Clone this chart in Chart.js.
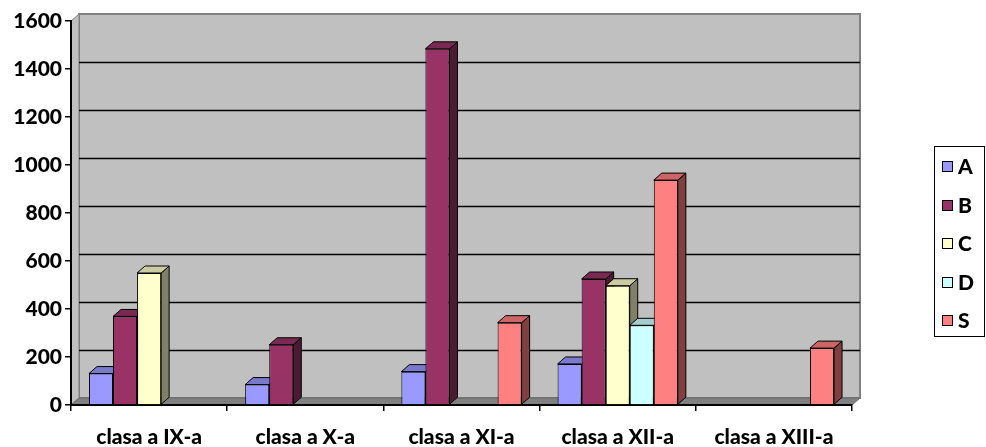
<!DOCTYPE html>
<html lang="ro">
<head>
    <meta charset="UTF-8">
    <title>Clase</title>
    <style>
        html, body { margin: 0; padding: 0; background: #fff; }
        #wrap { width: 986px; height: 447px; position: relative; }
    </style>
    <script src="https://cdn.jsdelivr.net/npm/chart.js@4"></script>
</head>
<body>
    <div id="wrap"><canvas id="chart" width="986" height="447"></canvas></div>
    <script>
        // data
        const categories = ['clasa a IX-a', 'clasa a X-a', 'clasa a XI-a', 'clasa a XII-a', 'clasa a XIII-a'];
        const seriesNames = ['A', 'B', 'C', 'D', 'S'];
        const valuesA = [131, 85, 139, 171, null];
        const valuesB = [369, 251, 1484, 525, null];
        const valuesC = [550, null, null, 497, null];
        const valuesD = [null, null, null, 332, null];
        const valuesS = [null, null, 343, 937, 237];
        const yTicks = [0, 200, 400, 600, 800, 1000, 1200, 1400, 1600];

        const colors = ['#9999FF', '#993366', '#FFFFCC', '#CCFFFF', '#FF8080'];
        const FONT = 'Lato, "Liberation Sans", sans-serif';
        const DX = 8, DY = 7; // depth of the 3d look

        function shade(hex, f) {
            const n = parseInt(hex.slice(1), 16);
            const r = Math.round(((n >> 16) & 255) * f);
            const g = Math.round(((n >> 8) & 255) * f);
            const b = Math.round((n & 255) * f);
            return 'rgb(' + r + ',' + g + ',' + b + ')';
        }

        function poly(ctx, pts, fill, stroke, lw) {
            ctx.beginPath();
            ctx.moveTo(pts[0][0], pts[0][1]);
            for (let i = 1; i < pts.length; i++) ctx.lineTo(pts[i][0], pts[i][1]);
            ctx.closePath();
            if (fill) { ctx.fillStyle = fill; ctx.fill(); }
            if (stroke) { ctx.strokeStyle = stroke; ctx.lineWidth = lw || 1; ctx.stroke(); }
        }

        // walls, floor and back gridlines
        const wallsPlugin = {
            id: 'walls',
            beforeDraw(chart) {
                const ctx = chart.ctx;
                const a = chart.chartArea;
                const y = chart.scales.y;
                ctx.save();
                poly(ctx, [[a.left + DX, a.top - DY], [a.right + DX, a.top - DY], [a.right + DX, a.bottom - DY], [a.left + DX, a.bottom - DY]], '#C0C0C0', '#808080', 2);
                poly(ctx, [[a.left, a.top], [a.left + DX, a.top - DY], [a.left + DX, a.bottom - DY], [a.left, a.bottom]], '#C0C0C0', '#808080', 1);
                poly(ctx, [[a.left, a.bottom], [a.left + DX, a.bottom - DY], [a.right + DX, a.bottom - DY], [a.right, a.bottom]], '#808080', '#666', 1);
                ctx.strokeStyle = '#000';
                ctx.lineWidth = 1.5;
                yTicks.forEach(v => {
                    if (v === 0 || v === 1600) return;
                    const py = Math.round(y.getPixelForValue(v) - DY) + 0.5;
                    ctx.beginPath();
                    ctx.moveTo(a.left + DX, py);
                    ctx.lineTo(a.right + DX, py);
                    ctx.stroke();
                });
                ctx.restore();
            },
            // side and top faces of the columns, drawn behind the front faces
            beforeDatasetsDraw(chart) {
                const ctx = chart.ctx;
                ctx.save();
                chart.data.datasets.forEach((ds, di) => {
                    const meta = chart.getDatasetMeta(di);
                    meta.data.forEach((bar, i) => {
                        if (ds.data[i] === null) return;
                        const p = bar.getProps(['x', 'y', 'base', 'width'], true);
                        const l = p.x - p.width / 2, r = p.x + p.width / 2;
                        poly(ctx, [[r, p.y], [r + DX, p.y - DY], [r + DX, p.base - DY], [r, p.base]], shade(colors[di], 0.5), '#000', 1);
                        poly(ctx, [[l, p.y], [l + DX, p.y - DY], [r + DX, p.y - DY], [r, p.y]], shade(colors[di], 0.8), '#000', 1);
                    });
                });
                ctx.restore();
            },
            afterDraw(chart) {
                // legend box
                const ctx = chart.ctx;
                ctx.save();
                ctx.strokeStyle = '#000';
                ctx.lineWidth = 1;
                ctx.strokeRect(934.5, 146.5, 50, 190);
                ctx.font = '900 21px ' + FONT;
                ctx.textBaseline = 'middle';
                ctx.textAlign = 'left';
                chart.data.datasets.forEach((ds, i) => {
                    const cy = 166.5 + i * 38.5;
                    ctx.fillStyle = colors[i];
                    ctx.fillRect(942, Math.round(cy - 5.5), 11, 11);
                    ctx.strokeStyle = '#000';
                    ctx.strokeRect(942.5, Math.round(cy - 5.5) + 0.5, 10, 10);
                    ctx.fillStyle = '#000';
                    ctx.fillText(ds.label, 958, cy + 1);
                });
                ctx.restore();
            }
        };

        const seriesValues = [valuesA, valuesB, valuesC, valuesD, valuesS];
        const datasets = seriesNames.map((name, i) => ({
            label: name,
            data: seriesValues[i],
            backgroundColor: colors[i],
            borderColor: '#000',
            borderWidth: 1,
            barPercentage: 1,
            categoryPercentage: 0.77
        }));

        new Chart(document.getElementById('chart').getContext('2d'), {
            type: 'bar',
            data: { labels: categories, datasets: datasets },
            plugins: [wallsPlugin],
            options: {
                responsive: false,
                animation: false,
                layout: { padding: { top: 21, right: 134, left: 0, bottom: 0 } },
                plugins: {
                    legend: { display: false },
                    tooltip: { enabled: false }
                },
                scales: {
                    x: {
                        offset: true,
                        grid: { offset: true, drawOnChartArea: false, color: '#000', tickLength: 6, lineWidth: 1.5 },
                        border: { color: '#000', width: 2 },
                        ticks: { color: '#000', padding: 14, font: { family: FONT, size: 21, weight: '900' } },
                        afterFit(s) { s.height = 42; }
                    },
                    y: {
                        min: 0,
                        max: 1600,
                        afterBuildTicks(s) { s.ticks = yTicks.map(v => ({ value: v })); },
                        grid: { drawOnChartArea: false, color: '#000', tickLength: 6, lineWidth: 1.5 },
                        border: { color: '#000', width: 2 },
                        ticks: {
                            color: '#000', padding: 3,
                            font: { family: FONT, size: 21, weight: '900' },
                            callback: v => String(v)
                        },
                        afterFit(s) { s.width = 71; }
                    }
                }
            }
        });
    </script>
</body>
</html>
